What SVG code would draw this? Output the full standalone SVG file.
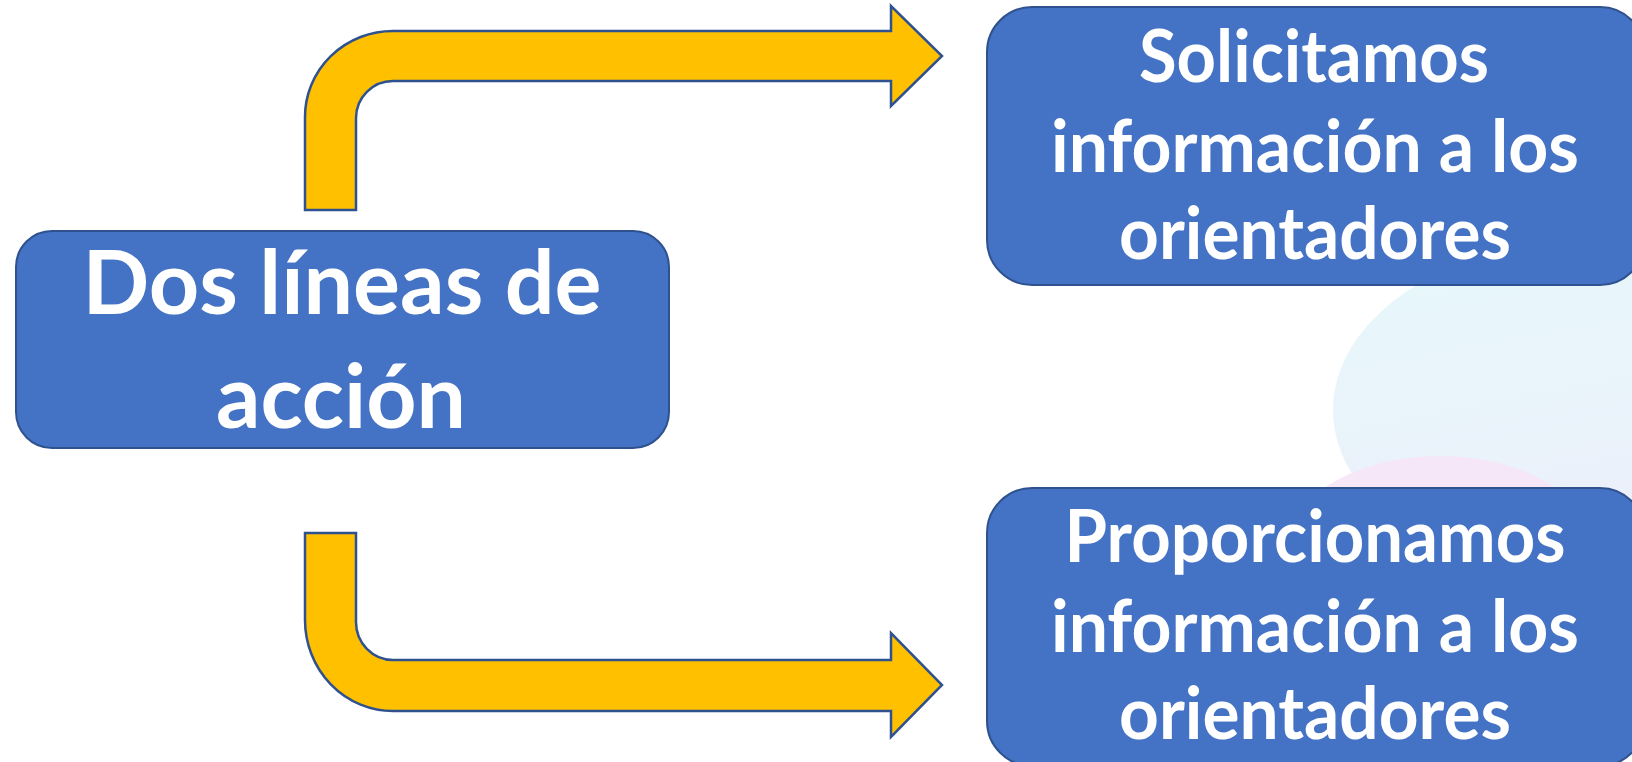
<svg xmlns="http://www.w3.org/2000/svg" width="1632" height="762" viewBox="0 0 1632 762">
  <defs>
    <linearGradient id="blobG" x1="0" y1="0" x2="0.3" y2="1">
      <stop offset="0" stop-color="#E6F8FB"/>
      <stop offset="1" stop-color="#ECEFFA"/>
    </linearGradient>
    <style>
      .box { fill: #4472C4; stroke: #2F528F; stroke-width: 2; }
      .arrow { fill: #FFC000; stroke: #2F528F; stroke-width: 2.5; stroke-linejoin: miter; }
      .lbl { font-family: Lato, "Open Sans", "Liberation Sans", sans-serif; font-weight: 700; fill: #FFFFFF; text-anchor: middle; }
      .big { font-size: 88px; }
      .med { font-size: 72px; }
    </style>
  </defs>
  <rect width="1632" height="762" fill="#FFFFFF"/>
  <!-- background decoration -->
  <ellipse cx="1600" cy="410" rx="267" ry="172" fill="url(#blobG)"/>
  <ellipse cx="1440" cy="562" rx="162" ry="106" fill="#F6E6F7" opacity="0.9"/>

  <g id="connectors">
    <path class="arrow" d="M305,210 L305,117 A88,86 0 0 1 393,31 L891,31 L891,6 L942,56 L891,106 L891,81 L393,81 A37,37 0 0 0 356,118 L356,210 Z"/>
    <path class="arrow" d="M305,533 L305,620 A88,91 0 0 0 393,711 L891,711 L891,737 L942,685 L891,633 L891,660 L393,660 A37,38 0 0 1 356,622 L356,533 Z"/>
  </g>

  <g id="node-main">
    <rect class="box" x="16" y="231" width="653" height="217" rx="36" ry="36"/>
    <text class="lbl big" x="342" y="314" textLength="519" lengthAdjust="spacingAndGlyphs">Dos líneas de</text>
    <text class="lbl big" x="341" y="428" textLength="250" lengthAdjust="spacingAndGlyphs">acción</text>
  </g>

  <g id="node-solicitamos">
    <rect class="box" x="987" y="7" width="658" height="278" rx="45" ry="45"/>
    <text class="lbl med" x="1314" y="82" textLength="350" lengthAdjust="spacingAndGlyphs">Solicitamos</text>
    <text class="lbl med" x="1315" y="172" textLength="528" lengthAdjust="spacingAndGlyphs">información a los</text>
    <text class="lbl med" x="1315" y="259" textLength="392" lengthAdjust="spacingAndGlyphs">orientadores</text>
  </g>

  <g id="node-proporcionamos">
    <rect class="box" x="987" y="488" width="658" height="278" rx="45" ry="45"/>
    <text class="lbl med" x="1315" y="562" textLength="501" lengthAdjust="spacingAndGlyphs">Proporcionamos</text>
    <text class="lbl med" x="1315" y="652" textLength="528" lengthAdjust="spacingAndGlyphs">información a los</text>
    <text class="lbl med" x="1315" y="739" textLength="392" lengthAdjust="spacingAndGlyphs">orientadores</text>
  </g>
</svg>
